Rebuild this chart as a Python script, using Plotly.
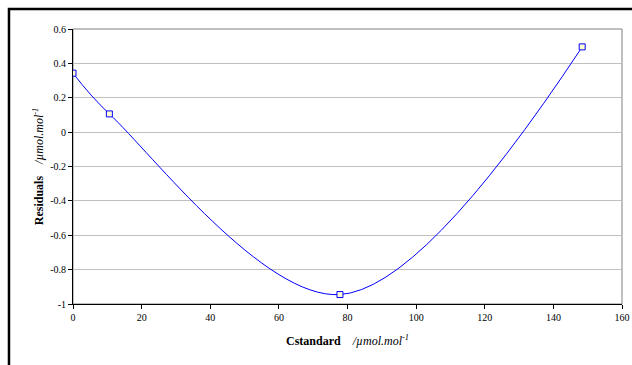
import plotly.graph_objects as go

# Data
x_std = [0, 10.6, 77.8, 148.4]
residuals = [0.343, 0.106, -0.945, 0.496]
x_ticks = [0, 20, 40, 60, 80, 100, 120, 140, 160]
y_ticks = [-1, -0.8, -0.6, -0.4, -0.2, 0, 0.2, 0.4, 0.6]
y_tick_text = ["-1", "-0.8", "-0.6", "-0.4", "-0.2", "0", "0.2", "0.4", "0.6"]

FONT = "Liberation Serif, Times New Roman, serif"
NB = "\u00a0"

fig = go.Figure()
fig.add_trace(go.Scatter(
    x=x_std, y=residuals, mode="lines+markers",
    line=dict(color="#0000ff", width=1, shape="spline", smoothing=1.0),
    marker=dict(symbol="square", size=6, color="#ffffd0",
                line=dict(color="#0000ff", width=1)),
    showlegend=False,
))

# plot-area border (gray) and outer frame (black)
fig.add_shape(type="rect", xref="paper", yref="paper", x0=0, x1=1, y0=0, y1=1,
              line=dict(color="#808080", width=1), layer="below")
fig.add_shape(type="rect", xref="paper", yref="paper", x0=-0.1166, x1=1.3, y0=-0.5, y1=1.0727,
              line=dict(color="black", width=2.5), layer="above")

fig.update_layout(
    width=632, height=365,
    margin=dict(l=73, r=10, t=29, b=61),
    paper_bgcolor="white", plot_bgcolor="white",
    font=dict(family=FONT, size=10, color="black"),
    xaxis=dict(
        range=[0, 160], tickvals=x_ticks, ticktext=[str(v) for v in x_ticks],
        showgrid=False, zeroline=False, showline=True, linecolor="black", linewidth=1,
        ticks="outside", ticklen=4, tickcolor="black", automargin=False,
        title=dict(text="<b>Cstandard</b>" + NB * 4 + "<i>/µmol.mol<sup>-1</sup></i>",
                   font=dict(family=FONT, size=12), standoff=14),
    ),
    yaxis=dict(
        range=[-1, 0.6], tickvals=y_ticks, ticktext=y_tick_text,
        showgrid=True, gridcolor="#c0c0c0", gridwidth=1, zeroline=False,
        showline=True, linecolor="black", linewidth=1,
        ticks="outside", ticklen=4, tickcolor="black", automargin=False,
        title=dict(text="<b>Residuals</b>" + NB * 4 + "<i>/µmol.mol<sup>-1</sup></i>",
                   font=dict(family=FONT, size=12), standoff=3),
    ),
)

fig.write_html("out.html")
